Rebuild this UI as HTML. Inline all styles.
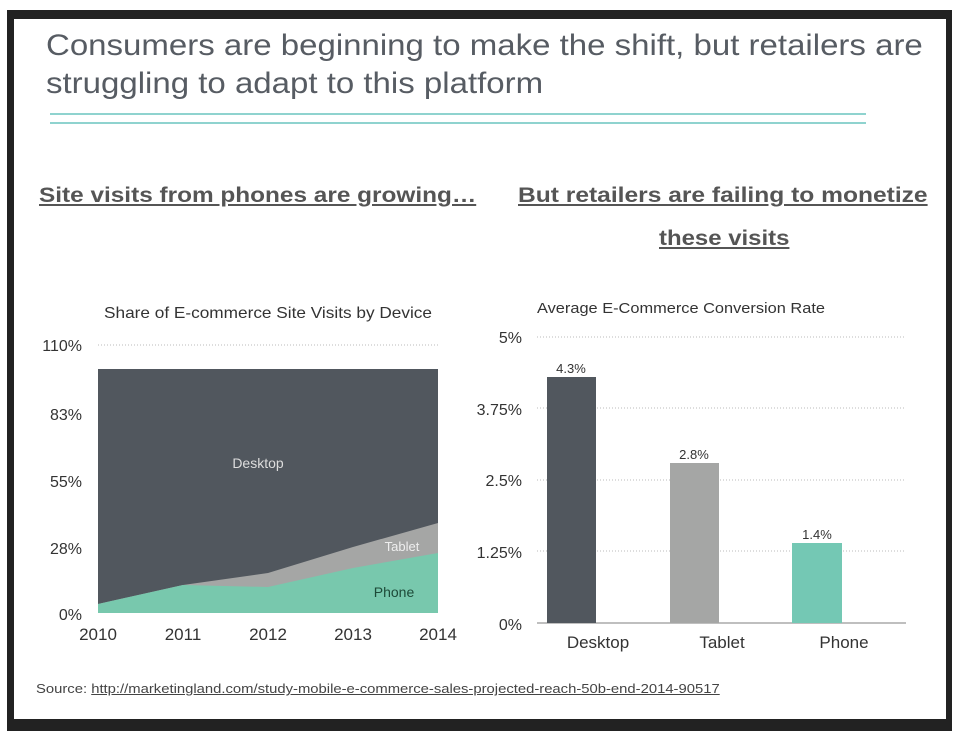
<!DOCTYPE html>
<html><head><meta charset="utf-8"><style>
html,body{margin:0;padding:0;background:#fff;}
body{width:960px;height:747px;position:relative;overflow:hidden;font-family:"Liberation Sans",sans-serif;}
.frame{position:absolute;left:7px;top:10px;width:945px;height:721px;background:#222;}
.slide{position:absolute;left:14px;top:19px;width:932px;height:700px;background:#fff;}
.t{position:absolute;white-space:nowrap;transform-origin:0 0;}
</style></head><body>
<div class="frame"></div>
<div class="slide"></div>
<div class="t" style="left:46px;top:27px;font-size:30px;line-height:38px;color:#575c63;transform:scaleX(1.1);">Consumers are beginning to make the shift, but retailers are<br>struggling to adapt to this platform</div>
<div style="position:absolute;left:50px;top:113px;width:816px;height:2px;background:#8fd3cf"></div>
<div style="position:absolute;left:50px;top:122px;width:816px;height:2px;background:#8fd3cf"></div>
<div class="t" style="left:39px;top:184px;font-size:21px;font-weight:bold;color:#555;text-decoration:underline;transform:scaleX(1.16);">Site visits from phones are growing…</div>
<div class="t" style="left:518px;top:184px;font-size:21px;font-weight:bold;color:#555;text-decoration:underline;transform:scaleX(1.17);">But retailers are failing to monetize</div>
<div class="t" style="left:659px;top:227px;font-size:21px;font-weight:bold;color:#555;text-decoration:underline;transform:scaleX(1.14);">these visits</div>
<svg width="960" height="747" style="position:absolute;left:0;top:0" font-family="Liberation Sans, sans-serif">
<text x="268" y="318" font-size="16" fill="#333" text-anchor="middle" textLength="328" lengthAdjust="spacingAndGlyphs">Share of E-commerce Site Visits by Device</text>
<line x1="98" y1="345" x2="438" y2="345" stroke="#bbb" stroke-dasharray="1,2"/>
<g font-size="16" fill="#333" text-anchor="end">
<text x="82" y="351">110%</text><text x="82" y="420">83%</text><text x="82" y="487">55%</text><text x="82" y="554">28%</text><text x="82" y="620">0%</text></g>
<rect x="98" y="369" width="340" height="244" fill="#51575e"/>
<polygon points="98,604 183,585 268,573 353,547 438,523 438,613 98,613" fill="#a5a6a5"/>
<polygon points="98,604 183,585 268,587 353,568 438,553 438,613 98,613" fill="#78c8ad"/>
<text x="258" y="468" font-size="14" fill="#ddd" text-anchor="middle">Desktop</text>
<text x="402" y="551" font-size="13" fill="#eee" text-anchor="middle">Tablet</text>
<text x="394" y="597" font-size="14" fill="#1d4a38" text-anchor="middle">Phone</text>
<g font-size="17" fill="#333" text-anchor="middle">
<text x="98" y="640">2010</text><text x="183" y="640">2011</text><text x="268" y="640">2012</text><text x="353" y="640">2013</text><text x="438" y="640">2014</text></g>
<text x="537" y="313" font-size="15" fill="#333" textLength="288" lengthAdjust="spacingAndGlyphs">Average E-Commerce Conversion Rate</text>
<g stroke="#bbb" stroke-dasharray="1,2">
<line x1="537" y1="337" x2="906" y2="337"/><line x1="537" y1="408" x2="906" y2="408"/><line x1="537" y1="480" x2="906" y2="480"/><line x1="537" y1="551" x2="906" y2="551"/></g>
<line x1="537" y1="623" x2="906" y2="623" stroke="#aaa" stroke-width="1.5"/>
<g font-size="16" fill="#333" text-anchor="end">
<text x="522" y="343">5%</text><text x="522" y="415">3.75%</text><text x="522" y="486">2.5%</text><text x="522" y="558">1.25%</text><text x="522" y="630">0%</text></g>
<rect x="547" y="377" width="49" height="246" fill="#51575e"/>
<rect x="670" y="463" width="49" height="160" fill="#a5a6a5"/>
<rect x="792" y="543" width="50" height="80" fill="#74c8b4"/>
<g font-size="13" fill="#333" text-anchor="middle">
<text x="571" y="373">4.3%</text><text x="694" y="459">2.8%</text><text x="817" y="539">1.4%</text></g>
<g font-size="17" fill="#333" text-anchor="middle">
<text x="598" y="648">Desktop</text><text x="722" y="648">Tablet</text><text x="844" y="648">Phone</text></g>
</svg>
<div class="t" style="left:36px;top:681px;font-size:13px;color:#444;transform:scaleX(1.14);">Source: <span style="text-decoration:underline">http://marketingland.com/study-mobile-e-commerce-sales-projected-reach-50b-end-2014-90517</span></div>
</body></html>
